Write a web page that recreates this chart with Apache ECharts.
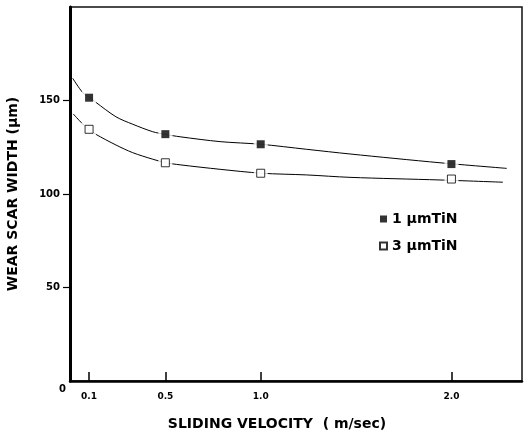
<!DOCTYPE html>
<html>
<head>
<meta charset="utf-8">
<script src="https://cdn.jsdelivr.net/npm/echarts@6/dist/echarts.min.js"></script>
<style>
  html, body { margin: 0; padding: 0; background: #fff; }
  #chart { width: 524px; height: 438px; }
</style>
</head>
<body>
<div id="chart"></div>
<script>
// measured points
var velocity = [0.1, 0.5, 1.0, 2.0];
var width1 = [151.5, 132, 126.6, 116];
var width3 = [134.6, 116.7, 111.1, 108];

// fitted curves
var fitX1 = [0.014, 0.067, 0.105, 0.136, 0.241, 0.329, 0.434, 0.498, 0.577, 0.787, 1.0, 1.241, 1.468, 1.94, 2.29];
var fitY1 = [161.9, 154.2, 151.5, 149, 141.3, 137.3, 133.3, 131.9, 130.6, 128, 126.6, 123.9, 121.4, 116.7, 113.7];
var fitX3 = [0.017, 0.063, 0.098, 0.136, 0.241, 0.329, 0.434, 0.503, 0.577, 0.787, 1.005, 1.241, 1.468, 1.94, 2.27];
var fitY3 = [142.8, 137.8, 134.6, 131.9, 126.2, 122.1, 118.6, 116.7, 115.6, 113.2, 111.1, 110.2, 108.9, 107.5, 106.3];

var xTicks = [0.1, 0.5, 1.0, 2.0];
var yTicks = [50, 100, 150];

var names = ['1 µmTiN', '3 µmTiN'];

function pairs(xs, ys) {
    return xs.map(function (x, i) { return [x, ys[i]]; });
}

var chart = echarts.init(document.getElementById('chart'), null, { renderer: 'canvas' });
var font = 'DejaVu Sans';

var option = {
    backgroundColor: '#fff',
    animation: false,
    textStyle: { fontFamily: font, color: '#000' },
    grid: {
        left: 70, right: 2, top: 7, bottom: 57,
        outerBoundsMode: 'none',
        show: true, borderColor: '#111', borderWidth: 1.5
    },
    legend: {
        orient: 'vertical',
        left: 374, top: 207,
        itemWidth: 7, itemHeight: 7,
        itemGap: 13,
        data: [
            { name: names[0], icon: 'rect' },
            { name: names[1], icon: 'rect' }
        ],
        textStyle: { fontFamily: font, fontWeight: 'bold', fontSize: 14, color: '#000' }
    },
    xAxis: {
        type: 'value',
        min: 0, max: 2.37,
        name: 'SLIDING VELOCITY  ( m/sec)',
        nameLocation: 'middle',
        nameGap: 36,
        nameTextStyle: { fontFamily: font, fontWeight: 'bold', fontSize: 14, color: '#000', padding: [0, 38, 0, 0] },
        splitLine: { show: false },
        axisLine: { lineStyle: { color: '#000', width: 2.5 } },
        axisTick: { inside: true, length: 9, customValues: xTicks, lineStyle: { color: '#000', width: 1.5 } },
        axisLabel: {
            customValues: [0].concat(xTicks),
            margin: 3,
            formatter: function (v) {
                return v === 0 ? '{o|0}' : '{t|' + v.toFixed(1) + '}';
            },
            rich: {
                o: { fontFamily: font, fontWeight: 'bold', fontSize: 10, color: '#000', lineHeight: 10, width: 22, align: 'left' },
                t: { fontFamily: font, fontWeight: 'bold', fontSize: 9, color: '#000', lineHeight: 26 }
            }
        }
    },
    yAxis: {
        type: 'value',
        min: 0, max: 200,
        name: 'WEAR SCAR WIDTH (µm)',
        nameLocation: 'middle',
        nameGap: 50,
        nameTextStyle: { fontFamily: font, fontWeight: 'bold', fontSize: 14, color: '#000' },
        splitLine: { show: false },
        axisLine: { lineStyle: { color: '#000', width: 3 } },
        axisTick: { length: 7, customValues: yTicks, lineStyle: { color: '#000', width: 1.2 } },
        axisLabel: { customValues: yTicks, margin: 10, fontFamily: font, fontWeight: 'bold', fontSize: 10, color: '#000' }
    },
    series: [
        {
            type: 'line', data: pairs(fitX1, fitY1), smooth: 0.3,
            showSymbol: false, symbol: 'none', silent: true, z: 2,
            lineStyle: { color: '#000', width: 1 }
        },
        {
            type: 'line', data: pairs(fitX3, fitY3), smooth: 0.3,
            showSymbol: false, symbol: 'none', silent: true, z: 2,
            lineStyle: { color: '#000', width: 1 }
        },
        // white halos that break the curve around each marker
        {
            type: 'scatter', data: pairs(velocity, width1), symbol: 'rect', symbolSize: 14,
            itemStyle: { color: '#fff' }, silent: true, z: 3
        },
        {
            type: 'scatter', data: pairs(velocity, width3), symbol: 'rect', symbolSize: 14,
            itemStyle: { color: '#fff' }, silent: true, z: 3
        },
        {
            name: names[0], type: 'scatter', data: pairs(velocity, width1), symbol: 'rect', symbolSize: 8,
            itemStyle: { color: '#000' }, z: 4
        },
        {
            name: names[1], type: 'scatter', data: pairs(velocity, width3), symbol: 'rect', symbolSize: 8,
            itemStyle: { color: '#fff', borderColor: '#000', borderWidth: 1 }, z: 4
        }
    ]
};

chart.setOption(option);
window.addEventListener('resize', function () {
    chart.resize();
});
</script>
</body>
</html>
